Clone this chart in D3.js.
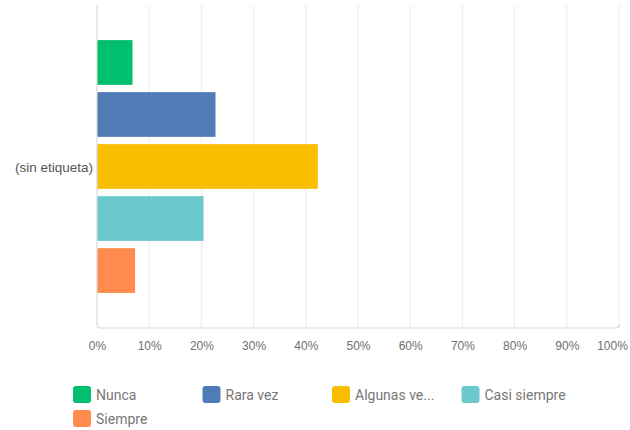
<!DOCTYPE html>
<html>
<head>
<meta charset="utf-8">
<script src="https://cdn.jsdelivr.net/npm/d3@7"></script>
<style>
  html, body { margin: 0; padding: 0; background: #fff; }
  svg { display: block; font-family: Roboto, "Liberation Sans", sans-serif; }
</style>
</head>
<body>
<svg id="chart" width="630" height="430"></svg>
<script>
// Response shares (percent) for the single unlabelled question row
const categories = ["(sin etiqueta)"];
const seriesNames = ["Nunca", "Rara vez", "Algunas veces", "Casi siempre", "Siempre"];
const legendLabels = ["Nunca", "Rara vez", "Algunas ve...", "Casi siempre", "Siempre"];
const seriesValues = [6.8, 22.7, 42.3, 20.4, 7.3];
const seriesColors = ["#00bf6f", "#507cb6", "#f9be00", "#6bc8cd", "#ff8b4f"];
const tickValues = [0, 10, 20, 30, 40, 50, 60, 70, 80, 90, 100];
const tickLabels = ["0%", "10%", "20%", "30%", "40%", "50%", "60%", "70%", "80%", "90%", "100%"];

const svg = d3.select("#chart");
const plot = { left: 97, right: 619, top: 5, bottom: 328 };

const x = d3.scaleLinear().domain([0, 100]).range([plot.left, plot.right]);
const y0 = d3.scaleBand().domain(categories).range([plot.top, plot.bottom]).paddingInner(0).paddingOuter(0.121);
const y1 = d3.scaleBand().domain(seriesNames).range([0, y0.bandwidth()]).paddingInner(0.14).paddingOuter(0.07);

// vertical gridlines
svg.append("g")
  .selectAll("line")
  .data(tickValues.slice(1))
  .join("line")
  .attr("x1", d => x(d)).attr("x2", d => x(d))
  .attr("y1", plot.top).attr("y2", plot.bottom)
  .attr("stroke", "#ececec").attr("stroke-width", 1);

// bars
const rows = svg.append("g")
  .selectAll("g")
  .data(categories)
  .join("g")
  .attr("transform", d => `translate(0,${y0(d)})`);

rows.selectAll("rect")
  .data(seriesNames.map((s, i) => ({ s, v: seriesValues[i], c: seriesColors[i] })))
  .join("rect")
  .attr("x", x(0))
  .attr("y", d => y1(d.s))
  .attr("width", d => x(d.v) - x(0))
  .attr("height", y1.bandwidth())
  .attr("fill", d => d.c);

// axis frame: left and bottom edges
svg.append("path")
  .attr("d", `M${plot.left},${plot.top}V${plot.bottom - 3}q0,3 3,3H${plot.right - 3}q3,0 3,-3V${plot.bottom - 4}`)
  .attr("fill", "none").attr("stroke", "#d9d9d9").attr("stroke-width", 1.2);

// x-axis tick labels
const xAxis = d3.axisBottom(x)
  .tickValues(tickValues)
  .tickFormat((d, i) => tickLabels[i])
  .tickSize(0)
  .tickPadding(13);
const xg = svg.append("g").attr("transform", `translate(0,${plot.bottom})`).call(xAxis);
xg.select(".domain").remove();
xg.selectAll("text")
  .attr("fill", "#6f6f6f")
  .style("font-size", "12px")
  .attr("dx", d => d === 100 ? -7 : 0);

// category label
const yAxis = d3.axisLeft(y0).tickSize(0).tickPadding(4);
const yg = svg.append("g").attr("transform", `translate(${plot.left},0)`).call(yAxis);
yg.select(".domain").remove();
yg.selectAll("text")
  .attr("fill", "#555")
  .style("font-size", "13.5px")
  .style("font-weight", 500)
  .attr("dy", "0.4em");

// legend
const legend = svg.append("g");
const items = legend.selectAll("g")
  .data(legendLabels.map((l, i) => ({ l, c: seriesColors[i], i })))
  .join("g")
  .attr("transform", d => `translate(${73 + (d.i % 4) * 129.5},${386 + Math.floor(d.i / 4) * 24})`);
items.append("rect")
  .attr("width", 18).attr("height", 17).attr("rx", 3)
  .attr("fill", d => d.c);
items.append("text")
  .attr("x", 23).attr("y", 9).attr("dy", "0.35em")
  .attr("fill", "#777").style("font-size", "14px")
  .text(d => d.l);
</script>
</body>
</html>
